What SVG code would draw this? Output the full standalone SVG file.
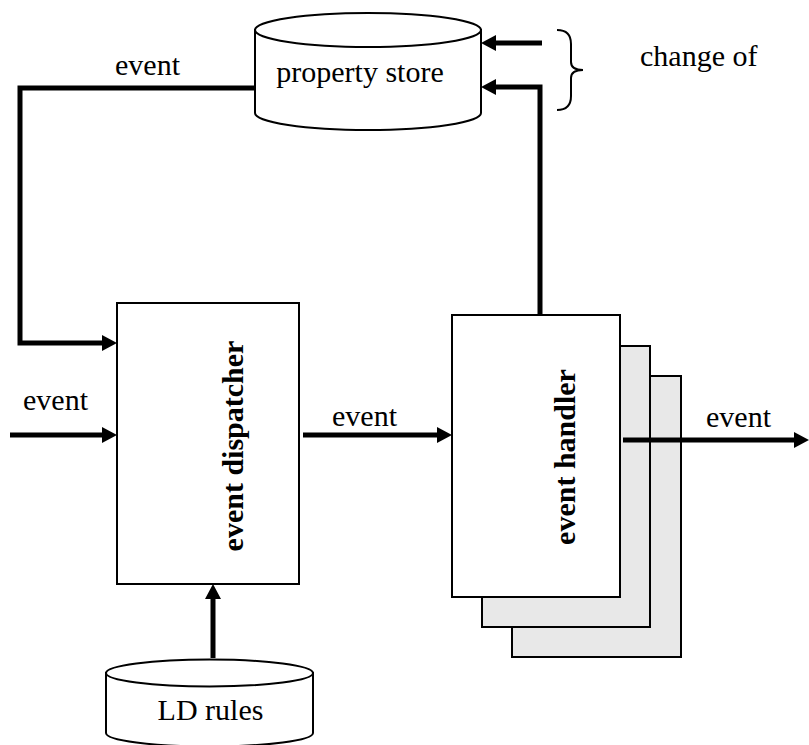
<svg xmlns="http://www.w3.org/2000/svg" width="809" height="745" viewBox="0 0 809 745" font-family="'Liberation Serif', 'DejaVu Serif', serif">
<style>
text{font-family:'Liberation Serif','DejaVu Serif',serif;font-size:30px;fill:#000}
.b{font-weight:bold}
.box{fill:#fff;stroke:#000;stroke-width:2}
.back{fill:#e8e8e8;stroke:#000;stroke-width:2}
.cyl{fill:#fff;stroke:#000;stroke-width:2}
.con{fill:none;stroke:#000;stroke-width:5}
.arr{marker-end:url(#ah)}
</style>
<defs>
<marker id="ah" markerUnits="userSpaceOnUse" viewBox="0 0 15 16" refX="0" refY="8" markerWidth="15" markerHeight="16" orient="auto">
<path d="M0,0 L15,8 L0,16 Z" fill="#000"/>
</marker>
</defs>
<rect width="809" height="745" fill="#fff"/>
<g id="property-store">
<path class="cyl" d="M255,30 L255,113 A113,17 0 0 0 481,113 L481,30 Z"/>
<ellipse class="cyl" cx="368" cy="30" rx="113" ry="17"/>
<text x="360" y="82" text-anchor="middle">property store</text>
</g>
<g id="change-of">
<path d="M557,30 Q571,30 571,44 L571,62 Q571,70 583,70 Q571,70 571,78 L571,96 Q571,110 557,110" fill="none" stroke="#000" stroke-width="2"/>
<text x="640" y="66">change of</text>
</g>
<g id="event-dispatcher">
<rect class="box" x="117" y="303" width="182" height="281"/>
<text class="b" transform="translate(243,446) rotate(-90)" text-anchor="middle">event dispatcher</text>
</g>
<g id="event-handler">
<rect class="back" x="512" y="376" width="169" height="281"/>
<rect class="back" x="482" y="346" width="168" height="281"/>
<rect class="box" x="452" y="315" width="168" height="282"/>
<text class="b" transform="translate(575,457) rotate(-90)" text-anchor="middle">event handler</text>
</g>
<g id="ld-rules">
<path class="cyl" d="M106,673 L106,733 A103.5,13.5 0 0 0 313,733 L313,673 Z"/>
<ellipse class="cyl" cx="209.5" cy="673" rx="103.5" ry="13.5"/>
<text x="210.5" y="720" text-anchor="middle">LD rules</text>
</g>
<g id="connectors">
<path class="con arr" d="M254,88 H20 V343 H102"/>
<path class="con arr" d="M10,435 H102"/>
<path class="con arr" d="M303,435 H437"/>
<path class="con arr" d="M623,440 H794"/>
<path class="con arr" d="M540,315 V87 H496"/>
<path class="con arr" d="M542,43 H496"/>
<path class="con arr" d="M213,658 V599"/>
<text x="115" y="75">event</text>
<text x="23" y="410">event</text>
<text x="332" y="426">event</text>
<text x="706" y="427">event</text>
</g>
</svg>
